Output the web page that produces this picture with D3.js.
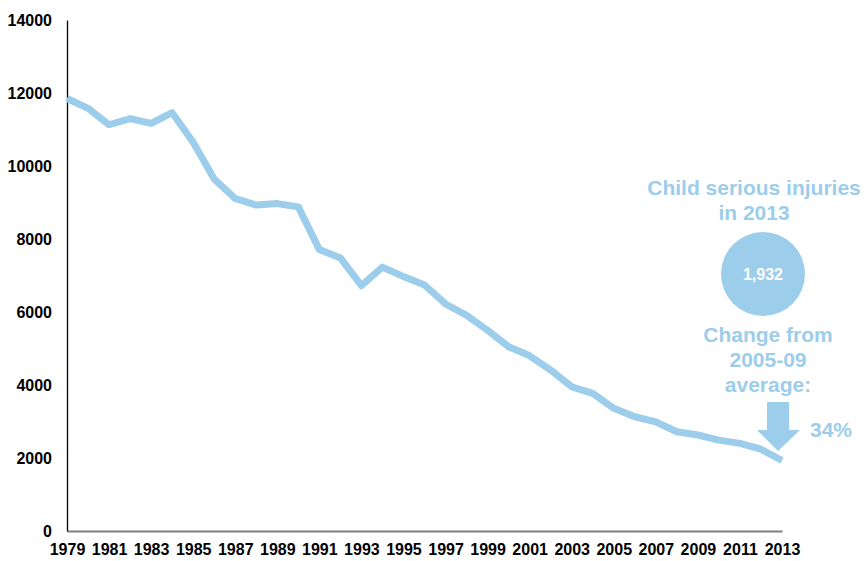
<!DOCTYPE html>
<html lang="en">
<head>
    <meta charset="UTF-8">
    <title>Child serious injuries 1979-2013</title>
    <script src="https://d3js.org/d3.v7.min.js"></script>
    <style>
        body { margin: 0; background: #fff; }
        svg { display: block; font-family: "Liberation Sans", Arial, sans-serif; }
        .tick text { font-weight: bold; fill: #000; }
        .note { font-weight: bold; fill: #9ccdea; text-anchor: middle; }
    </style>
</head>
<body>
    <div id="chart"></div>
    <script>
        // Data
        const years = d3.range(1979, 2014);
        const injuries = [
            11850, 11580, 11130, 11300, 11170, 11460, 10650, 9640, 9110, 8930,
            8970, 8880, 7710, 7480, 6720, 7230, 6970, 6740, 6220, 5910,
            5500, 5050, 4800, 4410, 3950, 3770, 3360, 3130, 2990, 2720,
            2630, 2490, 2400, 2240, 1932
        ];
        const yTicks = [0, 2000, 4000, 6000, 8000, 10000, 12000, 14000];
        const xTicks = d3.range(1979, 2014, 2);

        const titleLines = ["Child serious injuries", "in 2013"];
        const bubbleLabel = "1,932";
        const changeLines = ["Change from", "2005-09", "average:"];
        const changeLabel = "34%";

        const blue = "#9ccdea";
        const width = 865, height = 561;
        const margin = {top: 20, right: 83, bottom: 30, left: 67};

        const svg = d3.select("#chart").append("svg")
            .attr("width", width)
            .attr("height", height);

        const x = d3.scaleLinear()
            .domain([1979, 2013])
            .range([margin.left, width - margin.right]);

        const y = d3.scaleLinear()
            .domain([0, 14000])
            .range([height - margin.bottom, margin.top]);

        // Axes
        const xAxis = svg.append("g")
            .attr("transform", "translate(0," + y(0) + ")")
            .call(d3.axisBottom(x).tickValues(xTicks).tickFormat(d3.format("d"))
                .tickSize(0).tickPadding(13));
        xAxis.select(".domain").attr("stroke", "#7f7f7f").attr("stroke-width", 2);
        xAxis.selectAll("text").style("font-size", "16px");

        const yAxis = svg.append("g")
            .attr("transform", "translate(" + margin.left + ",0)")
            .call(d3.axisLeft(y).tickValues(yTicks).tickFormat(d3.format("d"))
                .tickSize(0).tickPadding(15));
        yAxis.select(".domain").attr("stroke", "#000").attr("stroke-width", 1.3);
        yAxis.selectAll("text").style("font-size", "16px");

        // Line
        const line = d3.line()
            .x((d, i) => x(years[i]))
            .y(d => y(d));

        svg.append("path")
            .datum(injuries)
            .attr("fill", "none")
            .attr("stroke", blue)
            .attr("stroke-width", 7)
            .attr("stroke-linejoin", "round")
            .attr("d", line);

        // Annotation
        const cx = 765;
        svg.selectAll(".title-note")
            .data(titleLines)
            .enter().append("text")
            .attr("class", "note")
            .attr("x", 754)
            .attr("y", (d, i) => 195 + i * 25)
            .style("font-size", "21px")
            .text(d => d);

        svg.append("circle")
            .attr("cx", 763)
            .attr("cy", 274)
            .attr("r", 42)
            .attr("fill", blue);

        svg.append("text")
            .attr("x", 763)
            .attr("y", 280)
            .attr("text-anchor", "middle")
            .attr("fill", "#fff")
            .style("font-weight", "bold")
            .style("font-size", "16px")
            .text(bubbleLabel);

        svg.selectAll(".change-note")
            .data(changeLines)
            .enter().append("text")
            .attr("class", "note")
            .attr("x", 768)
            .attr("y", (d, i) => 342 + i * 25)
            .style("font-size", "21px")
            .text(d => d);

        // Down arrow
        svg.append("path")
            .attr("fill", blue)
            .attr("d", "M767,402H789V430H800L778,451L757,430H767Z");

        svg.append("text")
            .attr("class", "note")
            .attr("x", 831)
            .attr("y", 437)
            .style("font-size", "21px")
            .text(changeLabel);
    </script>
</body>
</html>
